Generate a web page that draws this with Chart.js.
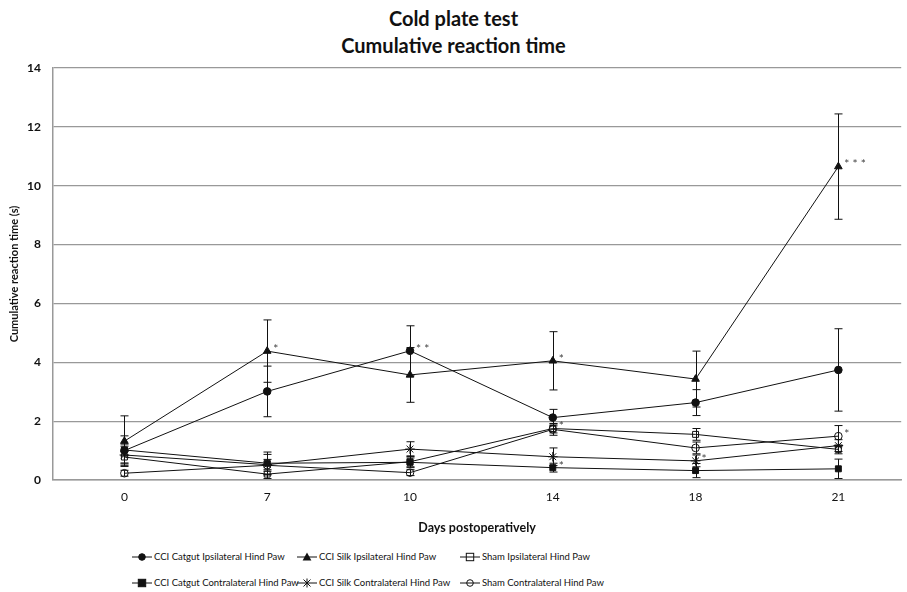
<!DOCTYPE html>
<html>
<head>
<meta charset="utf-8">
<script src="https://cdn.jsdelivr.net/npm/chart.js@4.4.1/dist/chart.umd.min.js"></script>
<style>
  body { margin: 0; padding: 0; background: #fff; font-family: Lato, "Open Sans", sans-serif; }
  #wrap { position: relative; width: 907px; height: 592px; overflow: hidden; }
  .ttl { position: absolute; left: 0; width: 907px; text-align: center; font-weight: bold; font-size: 20px; line-height: 24px; color: #111; }
  #box { position: absolute; left: 0; top: 0; width: 907px; height: 540px; }
  .lg { position: absolute; font-size: 9.5px; line-height: 12px; color: #111; white-space: nowrap; display: flex; align-items: center; }
  .lg svg { margin-right: 2px; }
</style>
</head>
<body>
<div id="wrap">
  <div class="ttl" style="top:6px">Cold plate test</div>
  <div class="ttl" style="top:33px">Cumulative reaction time</div>
  <div id="box"><canvas id="c"></canvas></div>
  <div id="legend"></div>
</div>
<script>
// ── Data ──────────────────────────────────────────────────────────────
const days = ['0', '7', '10', '14', '18', '21'];
const yTicks = [0, 2, 4, 6, 8, 10, 12, 14];

const seriesNames = [
  'CCI Catgut Ipsilateral Hind Paw',
  'CCI Silk Ipsilateral Hind Paw',
  'Sham Ipsilateral Hind Paw',
  'CCI Catgut Contralateral Hind Paw',
  'CCI Silk Contralateral Hind Paw',
  'Sham Contralateral Hind Paw'
];

// mean cumulative reaction time (s)
const catgutIpsi   = [1.00, 3.01, 4.39, 2.12, 2.63, 3.74];
const silkIpsi     = [1.32, 4.38, 3.57, 4.05, 3.43, 10.65];
const shamIpsi     = [0.78, 0.20, 0.62, 1.75, 1.55, 1.04];
const catgutContra = [1.02, 0.57, 0.60, 0.42, 0.32, 0.38];
const silkContra   = [0.85, 0.52, 1.05, 0.79, 0.65, 1.17];
const shamContra   = [0.23, 0.50, 0.25, 1.72, 1.09, 1.49];

// standard errors
const catgutIpsiSE   = [0.50, 0.86, 0.85, 0.28, 0.44, 1.40];
const silkIpsiSE     = [0.86, 1.06, 0.93, 0.99, 0.95, 1.79];
const shamIpsiSE     = [0.20, 0.15, 0.20, 0.15, 0.20, 0.15];
const catgutContraSE = [0.20, 0.38, 0.15, 0.15, 0.24, 0.33];
const silkContraSE   = [0.30, 0.35, 0.25, 0.30, 0.20, 0.20];
const shamContraSE   = [0.10, 0.20, 0.10, 0.20, 0.20, 0.36];

// significance marks: series index, day index, label
const sigSeries = [1, 0, 1, 2, 3, 4, 5, 1];
const sigDay    = [1, 2, 3, 3, 3, 4, 5, 5];
const sigText   = ['*', '**', '*', '*', '*', '*', '*', '***'];

const means = [catgutIpsi, silkIpsi, shamIpsi, catgutContra, silkContra, shamContra];
const errs  = [catgutIpsiSE, silkIpsiSE, shamIpsiSE, catgutContraSE, silkContraSE, shamContraSE];

// marker look per series
const INK = '#111';
const markers = [
  { style: 'circle',   r: 3.8, fill: INK },
  { style: 'triangle', r: 4.4, fill: INK },
  { style: 'rect',     r: 4.2, fill: 'rgba(255,255,255,0)' },
  { style: 'rect',     r: 4.2, fill: INK },
  { style: 'star',     r: 4.8, fill: INK },
  { style: 'circle',   r: 3.8, fill: 'rgba(255,255,255,0)' }
];

// ── Error bars + stars plugin ─────────────────────────────────────────
const errorBars = {
  id: 'errorBars',
  beforeDatasetsDraw(chart) {
    const { ctx, scales: { x, y } } = chart;
    ctx.save();
    ctx.strokeStyle = INK;
    ctx.lineWidth = 1;
    means.forEach((arr, s) => {
      arr.forEach((v, i) => {
        const px = Math.round(x.getPixelForValue(i)) + 0.5;
        const top = y.getPixelForValue(v + errs[s][i]);
        const bot = y.getPixelForValue(Math.max(0, v - errs[s][i]));
        ctx.beginPath();
        ctx.moveTo(px, top); ctx.lineTo(px, bot);
        ctx.moveTo(px - 4, top); ctx.lineTo(px + 4, top);
        ctx.moveTo(px - 4, bot); ctx.lineTo(px + 4, bot);
        ctx.stroke();
      });
    });
    ctx.restore();
  },
  afterDatasetsDraw(chart) {
    const { ctx, scales: { x, y } } = chart;
    ctx.save();
    ctx.fillStyle = '#444';
    ctx.font = '12px Lato';
    ctx.textAlign = 'left';
    ctx.textBaseline = 'middle';
    sigText.forEach((t, k) => {
      const i = sigDay[k];
      const px = x.getPixelForValue(i);
      const py = y.getPixelForValue(means[sigSeries[k]][i]);
      ctx.fillText(t.split('').join(' '), px + 6, py - 2);
    });
    ctx.restore();
  }
};

// ── Chart ─────────────────────────────────────────────────────────────
new Chart(document.getElementById('c'), {
  type: 'line',
  data: {
    datasets: means.map((arr, s) => ({
      label: seriesNames[s],
      data: arr.map((v, i) => ({ x: i, y: v })),
      borderColor: INK,
      borderWidth: 1,
      pointStyle: markers[s].style,
      pointRadius: markers[s].r,
      pointBackgroundColor: markers[s].fill,
      pointBorderColor: INK,
      pointBorderWidth: 1,
      tension: 0
    }))
  },
  options: {
    responsive: true,
    maintainAspectRatio: false,
    animation: false,
    layout: { padding: { top: 68, right: 0, bottom: 0, left: 0 } },
    plugins: { legend: { display: false }, tooltip: { enabled: false } },
    scales: {
      x: {
        type: 'linear',
        min: -0.5,
        max: 5.44,
        afterBuildTicks: s => { s.ticks = days.map((d, i) => ({ value: i })); },
        afterFit: s => { s.height = 60; },
        ticks: {
          callback: v => days[v],
          font: { family: 'Lato', size: 12 },
          color: '#111',
          padding: 10,
          maxRotation: 0
        },
        grid: { display: false, drawTicks: false },
        border: { color: '#999', width: 1.5 },
        title: {
          display: true,
          text: 'Days postoperatively',
          font: { family: 'Lato', size: 12.5, weight: 'bold' },
          color: '#111',
          padding: { top: 0, bottom: 5 }
        }
      },
      y: {
        min: 0,
        max: 14,
        afterBuildTicks: s => { s.ticks = yTicks.map(v => ({ value: v })); },
        afterFit: s => { s.width = 53; },
        ticks: {
          font: { family: 'Lato', size: 12, weight: 'bold' },
          color: '#111',
          padding: 12
        },
        grid: { color: '#999', lineWidth: 1.2, drawTicks: false },
        border: { color: '#999', width: 1.5 },
        title: {
          display: true,
          text: 'Cumulative reaction time (s)',
          font: { family: 'Lato', size: 11, weight: 'bold' },
          color: '#111',
          padding: { top: 8, bottom: 0 }
        }
      }
    }
  },
  plugins: [errorBars]
});

// ── Legend (HTML, two rows of three) ──────────────────────────────────
function markerSvg(m) {
  const c = 10, r = m.r;
  let shape = '';
  if (m.style === 'circle') shape = `<circle cx="${c}" cy="5" r="${r - 0.5}" fill="${m.fill}" stroke="${INK}"/>`;
  if (m.style === 'rect') shape = `<rect x="${c - r + 0.5}" y="${5 - r + 0.5}" width="${2 * r - 1}" height="${2 * r - 1}" fill="${m.fill}" stroke="${INK}"/>`;
  if (m.style === 'triangle') shape = `<polygon points="${c},${5 - r} ${c + r},${5 + r - 1} ${c - r},${5 + r - 1}" fill="${INK}"/>`;
  if (m.style === 'star') shape = `<path d="M${c - 3.5} 1.5 L${c + 3.5} 8.5 M${c + 3.5} 1.5 L${c - 3.5} 8.5 M${c} 0.5 L${c} 9.5" stroke="${INK}" fill="none"/>`;
  return `<svg width="20" height="10" viewBox="0 0 20 10"><line x1="0" y1="5" x2="20" y2="5" stroke="${INK}"/>${shape}</svg>`;
}
const colX = [132, 297, 460];
const rowY = [557, 583];
const legend = document.getElementById('legend');
seriesNames.forEach((name, s) => {
  const el = document.createElement('div');
  el.className = 'lg';
  el.style.left = colX[s % 3] + 'px';
  el.style.top = (rowY[Math.floor(s / 3)] - 6) + 'px';
  el.innerHTML = markerSvg(markers[s]) + '<span>' + name + '</span>';
  legend.appendChild(el);
});
</script>
</body>
</html>
